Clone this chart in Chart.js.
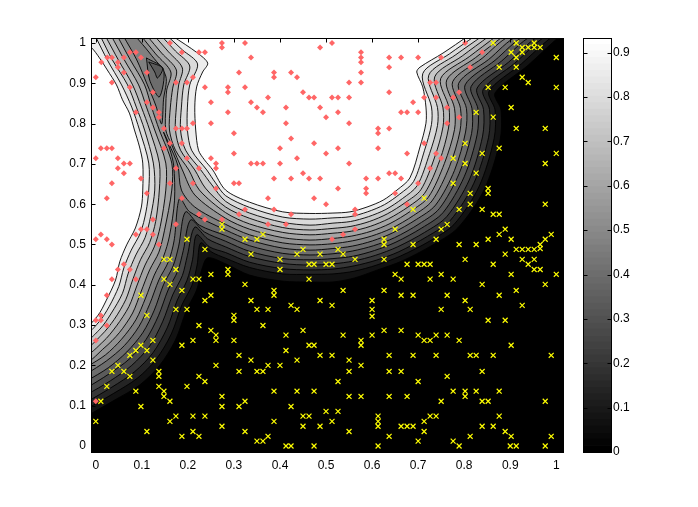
<!DOCTYPE html>
<html>
<head>
<meta charset="utf-8">
<title>Contour with two classes</title>
<script src="https://cdn.jsdelivr.net/npm/chart.js@4"></script>
<style>
  body { margin: 0; background: #fff; }
  #wrap { position: relative; width: 698px; height: 507px; }
  canvas { position: absolute; top: 0; }
  #main { left: 0; }
  #bar { left: 570px; }
</style>
</head>
<body>
<div id="wrap">
  <canvas id="main" width="698" height="507"></canvas>
  <canvas id="bar" width="128" height="507"></canvas>
</div>
<script>
// tick labels
const xTicks = [0, 0.1, 0.2, 0.3, 0.4, 0.5, 0.6, 0.7, 0.8, 0.9, 1];
const yTicks = [0, 0.1, 0.2, 0.3, 0.4, 0.5, 0.6, 0.7, 0.8, 0.9, 1];
const barTicks = [0, 0.1, 0.2, 0.3, 0.4, 0.5, 0.6, 0.7, 0.8, 0.9];
const barMax = 0.933;

// class points
const pinkPoints = [
  [.161,1],[.187,.977],[.224,.977],[.237,.977],[.274,1],[.274,.989],[.324,1],[.074,.977],[.087,.977],[.098,.964],[.025,.964],[.035,.964],[.061,.964],[.048,.952],[.012,.952],[.048,.94],[.061,.927],[.111,.927],[.311,.927],[0,.915],[.035,.902],[.174,.902],[.198,.902],[.211,.915],[.074,.89],[.237,.89],[.287,.89],[.287,.878],[.324,.89],[.124,.878],[.111,.853],[.25,.853],[.124,.84],[.137,.828],[.287,.828],[.087,.828],[.137,.816],[.25,.801],[.148,.788],[.174,.788],[.187,.788],[.198,.788],[.211,.801],[.3,.776],[.187,.751],[.161,.751],[.148,.739],[.011,.739],[.024,.739],[.035,.739],[.3,.726],[.198,.714],[.25,.714],[0,.714],[.048,.714],[.261,.701],[.061,.701],[.074,.701],[.048,.689],[.174,.689],[.224,.689],[.261,.689],
  [.061,.677],[.098,.664],[.035,.652],[.161,.652],[.211,.652],[.3,.652],[.311,.652],[.261,.639],[.111,.627],[.024,.615],[.187,.615],[.324,.587],[.224,.575],[.311,.575],[.237,.562],[.274,.562],[.124,.562],[.174,.55],[.098,.538],[.111,.538],[.087,.525],[.124,.525],[.011,.525],[0,.513],[.024,.513],[.035,.5],[.137,.5],[.061,.451],[.048,.438],[.074,.438],[.035,.414],[.087,.414],[.024,.374],
  [.011,.324],[0,.312],[.011,.312],[.024,.299],[0,.262],[0,.111],
  [.513,1],[.487,.989],[.337,.964],[.576,.977],[.576,.964],[.576,.952],[.637,.964],[.663,.964],[.7,.964],[.637,.94],[.387,.927],[.424,.927],[.387,.915],[.437,.915],[.576,.927],[.55,.902],[.576,.902],[.45,.878],[.637,.878],[.374,.865],[.463,.865],[.474,.865],[.513,.865],[.526,.865],[.55,.865],[.337,.853],[.35,.84],[.413,.84],[.487,.84],[.689,.853],[.363,.828],[.526,.828],[.663,.828],[.676,.828],[.7,.828],[.5,.816],[.413,.801],[.55,.801],[.613,.788],[.637,.788],[.613,.776],[.424,.763],[.474,.751],[.4,.739],[.526,.739],[.613,.739],[.5,.726],[.676,.726],[.437,.714],[.337,.701],[.35,.701],[.363,.701],[.4,.701],[.55,.701],
  [.802,1],[.839,.977],[.75,.964],[.813,.94],[.726,.902],[.739,.902],[.789,.878],[.713,.865],[.739,.865],[.776,.865],[.763,.84],[.789,.816],[.763,.801],[.713,.751],[.739,.726],[.75,.714],[.726,.689],
  [.45,.677],[.387,.664],[.424,.664],[.463,.664],[.487,.664],[.587,.664],[.613,.664],[.637,.677],[.65,.677],[.663,.664],[.7,.652],[.526,.639],[.587,.639],[.587,.627],[.65,.627],[.374,.615],[.474,.615],[.5,.6],[.676,.6],[.387,.587],[.563,.587],[.424,.575],[.563,.575],[.374,.55],[.413,.55],[.563,.538],[.537,.525],[.513,.513]
];
const yellowPoints = [
  [.274,.55],[.274,.538],[.198,.513],[.324,.513],[.237,.488],[.148,.463],[.161,.463],[.174,.438],[.287,.438],[.287,.426],[.25,.426],[.148,.414],[.211,.414],[.224,.414],[.161,.401],[.324,.401],[.187,.386],[.25,.374],[.237,.361],[.098,.374],[.174,.339],[.198,.339],
  [.111,.324],[.3,.324],[.3,.312],[.224,.299],[.25,.287],[.261,.275],[.261,.262],[.211,.262],[.3,.262],[.124,.262],[.098,.25],[.187,.25],[.087,.237],[.111,.237],[.074,.225],[.311,.225],[.124,.213],[.048,.2],[.261,.2],[.035,.185],[.061,.185],[.311,.185],[.137,.185],[.137,.173],[.074,.173],[.224,.173],[.237,.16],[.137,.148],[.024,.148],[.198,.148],[.148,.136],[.087,.136],[.148,.123],[.274,.123],[.161,.111],[.011,.111],[.324,.111],[.098,.098],[.274,.098],[.311,.098],[.174,.074],[.211,.074],[.237,.074],[.161,.061],[0,.061],[.274,.049],[.111,.036],[.211,.036],[.324,.036],[.187,.024],[.224,.024],
  [.863,1],[.913,1],[.952,1],[.902,.977],[.913,.964],[.926,.989],[.926,.977],[.939,.989],[.952,.989],[.965,.989],[1,.964],[.876,.94],[.913,.94],[.926,.915],[.939,.902],[.852,.89],[.889,.89],[1,.89],[.902,.84],[.826,.828],[.863,.816],[.913,.788],[.976,.788],[.802,.751],[.876,.739],[.839,.726],[1,.726],[.776,.714],[.802,.701],[.976,.701],
  [.689,.587],[.65,.538],[.363,.525],[.35,.513],[.626,.513],[.626,.5],[.689,.5],[.45,.488],[.526,.488],[.337,.476],[.437,.476],[.487,.476],[.537,.476],[.4,.463],[.563,.463],[.626,.463],[.463,.451],[.474,.451],[.5,.451],[.513,.451],[.676,.451],[.7,.451],[.4,.438],[.65,.426],[.663,.414],[.463,.414],[.387,.386],[.387,.374],[.537,.386],[.626,.386],[.337,.361],[.487,.361],[.6,.361],[.663,.374],[.689,.374],[.424,.349],[.513,.349],[.35,.339],[.374,.339],[.437,.339],[.6,.339],
  [.826,.677],[.776,.652],[.852,.639],[.852,.627],[.813,.627],[.713,.615],[.813,.6],[.976,.6],[.789,.587],[.839,.587],[.863,.575],[.876,.575],[.763,.55],[.75,.538],[.889,.538],[.876,.525],[.989,.525],[.739,.513],[.852,.513],[.902,.513],[.976,.513],[.789,.5],[.826,.5],[.965,.5],[.913,.488],[.926,.488],[.939,.488],[.952,.488],[.965,.49],[.889,.476],[.802,.463],[.926,.463],[.952,.463],[.713,.451],[.726,.451],[.863,.451],[.939,.451],[.952,.438],[.965,.438],[.75,.426],[.902,.426],[1,.426],[.726,.414],[.776,.414],[.839,.401],[.976,.401],[.913,.386],[.763,.374],[.876,.374],[.802,.361],[.926,.349],[.75,.339],[.813,.339],
  [.6,.322],[.363,.299],[.45,.287],[.626,.287],[.663,.287],[.413,.275],[.537,.275],[.6,.275],[.7,.275],[.576,.262],[.576,.25],[.463,.25],[.474,.25],[.413,.237],[.487,.225],[.513,.225],[.637,.225],[.689,.225],[.337,.213],[.437,.213],[.55,.213],[.374,.2],[.4,.2],[.576,.2],[.35,.185],[.363,.185],[.55,.185],[.637,.185],[.663,.185],[.526,.16],[.7,.16],[.387,.136],[.437,.136],[.474,.136],[.55,.123],[.576,.123],[.637,.123],[.676,.123],[.424,.098],[.5,.086],[.526,.086],[.613,.074],[.45,.074],[.463,.074],[.613,.061],[.387,.061],[.513,.061],[.45,.049],[.487,.049],[.613,.049],[.663,.049],[.676,.049],[.689,.049],[.55,.036],[.374,.024],[.637,.024],[.35,.012],[.363,.012],[.7,.012],[.413,0],[.424,0],[.474,0],[.613,0],
  [.852,.312],[.889,.312],[.713,.262],[.726,.262],[.739,.275],[.763,.275],[.789,.262],[.902,.25],[.739,.225],[.813,.225],[.826,.225],[.863,.225],[.989,.225],[.839,.185],[.763,.173],[.776,.136],[.802,.136],[.802,.123],[.826,.136],[.876,.136],[.75,.111],[.839,.111],[.852,.111],[.976,.111],[.713,.061],[.726,.074],[.739,.074],[.876,.074],[.713,.036],[.839,.049],[.863,.049],[.889,.036],[.902,.024],[.989,.024],[.813,.024],[.776,.012],[.789,0],[.9,0],[.913,0],[.976,0]
];

// contour lines, c1 is the lowest level. Up to c8 one line runs along the whole band
const c1 = [[-.02,.074],[.041,.114],[.095,.151],[.138,.199],[.173,.263],[.197,.337],[.219,.387],[.23,.437],[.243,.467],[.282,.452],[.334,.424],[.406,.409],[.465,.407],[.515,.407],[.562,.417],[.612,.437],[.665,.459],[.732,.499],[.786,.541],[.843,.635],[.878,.759],[.88,.834],[.867,.876],[.939,.945],[1.008,1.017]];
const c2 = [[-.02,.092],[.038,.13],[.09,.168],[.131,.215],[.164,.278],[.187,.35],[.209,.399],[.22,.449],[.228,.504],[.252,.481],[.282,.466],[.334,.443],[.406,.427],[.465,.426],[.515,.427],[.562,.434],[.61,.449],[.661,.471],[.726,.509],[.778,.55],[.832,.643],[.865,.763],[.867,.834],[.854,.88],[.924,.948],[.993,1.017]];
const c3 = [[-.02,.109],[.035,.146],[.084,.184],[.124,.231],[.155,.293],[.177,.362],[.198,.411],[.21,.462],[.219,.524],[.247,.494],[.282,.48],[.334,.456],[.406,.44],[.465,.437],[.515,.439],[.561,.447],[.609,.461],[.658,.482],[.72,.52],[.77,.56],[.821,.652],[.853,.766],[.855,.835],[.841,.884],[.91,.95],[.977,1.017]];
const c4 = [[-.02,.127],[.032,.162],[.078,.2],[.117,.248],[.145,.308],[.167,.375],[.188,.423],[.199,.473],[.215,.543],[.243,.514],[.282,.494],[.334,.47],[.406,.453],[.465,.449],[.515,.452],[.56,.459],[.607,.473],[.655,.494],[.714,.53],[.762,.569],[.811,.66],[.84,.769],[.842,.835],[.828,.888],[.896,.952],[.962,1.017]];
const c5 = [[-.02,.144],[.029,.179],[.073,.216],[.109,.264],[.136,.323],[.157,.387],[.178,.434],[.19,.485],[.206,.561],[.236,.531],[.282,.508],[.334,.483],[.406,.465],[.465,.462],[.515,.465],[.559,.471],[.605,.485],[.652,.506],[.708,.541],[.754,.579],[.8,.668],[.828,.772],[.83,.836],[.815,.892],[.881,.955],[.946,1.017]];
const c6 = [[-.02,.161],[.027,.194],[.067,.233],[.102,.281],[.127,.337],[.147,.4],[.168,.447],[.18,.496],[.195,.581],[.225,.548],[.282,.522],[.334,.497],[.406,.478],[.465,.474],[.515,.477],[.558,.484],[.603,.497],[.649,.517],[.702,.551],[.746,.589],[.789,.676],[.816,.775],[.817,.837],[.802,.896],[.867,.957],[.931,1.017]];
const c7 = [[-.02,.179],[.023,.211],[.062,.249],[.094,.297],[.117,.352],[.137,.412],[.158,.458],[.17,.509],[.182,.615],[.204,.581],[.282,.536],[.334,.511],[.406,.491],[.465,.486],[.515,.49],[.557,.496],[.601,.509],[.645,.529],[.696,.562],[.738,.598],[.779,.684],[.803,.779],[.805,.837],[.788,.9],[.853,.959],[.916,1.017]];
const c8 = [[-.02,.196],[.021,.226],[.056,.265],[.087,.313],[.108,.367],[.127,.424],[.147,.47],[.16,.521],[.171,.61],[.169,.697],[.16,.739],[.147,.779],[.158,.752],[.178,.697],[.186,.635],[.215,.593],[.282,.55],[.334,.524],[.406,.504],[.465,.499],[.515,.502],[.557,.509],[.599,.521],[.642,.54],[.69,.572],[.73,.608],[.768,.693],[.791,.782],[.792,.838],[.775,.904],[.839,.962],[.9,1.017]];

// above c8 the level splits into a left lobe and the round bowl
const c9Left = [[.047,1.017],[.075,.958],[.106,.896],[.121,.841],[.138,.784],[.165,.702],[.165,.635],[.149,.534],[.137,.481],[.117,.437],[.098,.382],[.08,.33],[.051,.281],[.018,.243],[-.02,.213]];
const c10Left = [[.034,1.017],[.062,.958],[.093,.896],[.11,.841],[.128,.784],[.152,.702],[.152,.635],[.14,.545],[.127,.494],[.107,.449],[.089,.397],[.072,.346],[.045,.298],[.015,.258],[-.02,.231]];
const c11Left = [[.021,1.017],[.049,.958],[.08,.896],[.099,.841],[.117,.784],[.138,.702],[.138,.635],[.13,.557],[.117,.505],[.097,.462],[.08,.412],[.065,.363],[.04,.314],[.012,.275],[-.02,.248]];
const c12Left = [[.01,1.017],[.036,.958],[.069,.896],[.088,.841],[.106,.784],[.125,.702],[.128,.635],[.119,.569],[.107,.517],[.087,.474],[.07,.427],[.058,.379],[.034,.33],[.009,.29],[-.02,.266]];
const c13Left = [[-.001,1.017],[.025,.958],[.056,.896],[.078,.841],[.095,.784],[.115,.702],[.115,.635],[.109,.581],[.097,.529],[.077,.486],[.061,.442],[.05,.396],[.029,.346],[.007,.308],[-.02,.283]];
const c14Left = [[-.02,.993],[-.009,.988],[.008,.963],[.025,.933],[.045,.896],[.058,.859],[.073,.826],[.084,.784],[.095,.742],[.102,.702],[.102,.635],[.099,.593],[.086,.541],[.067,.499],[.052,.457],[.043,.412],[.023,.362],[.004,.323],[-.02,.3]];

const c9Bowl = [[.099,1.017],[.13,.973],[.163,.928],[.154,.883],[.152,.841],[.152,.784],[.165,.747],[.188,.685],[.215,.623],[.282,.565],[.334,.538],[.406,.517],[.465,.511],[.515,.515],[.556,.521],[.598,.533],[.639,.552],[.684,.583],[.722,.617],[.757,.701],[.779,.785],[.779,.838],[.762,.908],[.825,.964],[.885,1.017]];
const c10Bowl = [[.112,1.017],[.143,.975],[.175,.933],[.167,.888],[.162,.841],[.16,.784],[.173,.734],[.202,.685],[.225,.635],[.282,.579],[.334,.551],[.406,.53],[.465,.524],[.515,.528],[.555,.533],[.596,.545],[.636,.564],[.678,.593],[.714,.627],[.747,.709],[.766,.789],[.767,.839],[.749,.912],[.811,.966],[.87,1.017]];
const c11Bowl = [[.128,1.017],[.158,.978],[.188,.938],[.18,.896],[.175,.841],[.173,.784],[.184,.734],[.215,.685],[.238,.64],[.282,.593],[.334,.565],[.406,.542],[.465,.536],[.515,.54],[.554,.545],[.594,.557],[.633,.576],[.672,.604],[.706,.636],[.736,.717],[.754,.792],[.754,.839],[.736,.916],[.796,.968],[.854,1.017]];
const c12Bowl = [[.143,1.017],[.173,.98],[.204,.943],[.191,.896],[.186,.841],[.184,.784],[.195,.734],[.228,.685],[.252,.648],[.282,.607],[.334,.578],[.406,.555],[.465,.548],[.515,.553],[.553,.557],[.592,.569],[.63,.587],[.666,.614],[.698,.646],[.725,.726],[.742,.795],[.742,.84],[.723,.92],[.782,.971],[.839,1.017]];
const c13Bowl = [[.156,1.017],[.188,.983],[.221,.948],[.204,.896],[.199,.841],[.199,.784],[.208,.734],[.241,.685],[.26,.653],[.282,.621],[.334,.592],[.406,.568],[.465,.563],[.515,.566],[.552,.569],[.59,.581],[.627,.599],[.66,.625],[.69,.656],[.714,.734],[.729,.798],[.729,.841],[.71,.924],[.768,.973],[.823,1.017]];
const c14Bowl = [[.167,1.017],[.221,.975],[.243,.95],[.232,.928],[.219,.891],[.215,.841],[.217,.784],[.223,.734],[.236,.71],[.254,.685],[.282,.635],[.334,.605],[.406,.581],[.465,.577],[.515,.578],[.552,.581],[.589,.593],[.624,.61],[.654,.635],[.682,.665],[.704,.742],[.717,.801],[.717,.841],[.71,.891],[.697,.928],[.704,.94],[.754,.975],[.808,1.017]];

// the dip near the top of the valley
const c8Dip = [[.06,1.017],[.089,.958],[.112,.896],[.13,.846],[.143,.799],[.147,.859],[.152,.918],[.117,.975],[.086,1.017]];
const c7Dip = [[.11,.963],[.147,.935],[.138,.866],[.117,.908],[.11,.963]];
const c6Dip = [[.115,.953],[.145,.938],[.134,.913],[.128,.928],[.115,.953]];

// band greys, index 0 is the black floor
const bandGreys = [0, 18, 36, 55, 73, 91, 109, 128, 146, 164, 182, 200, 219, 237, 255];
// colour ramp of the bar
const barGreys = [0,4,8,12,16,20,24,28,32,36,40,45,49,53,57,61,65,69,73,77,81,85,89,93,97,101,105,109,113,117,121,125,130,134,138,142,146,150,154,158,162,166,170,174,178,182,186,190,194,198,202,206,210,215,219,223,227,231,235,239,243,247,251,255];

const FONT = { family: '"Liberation Sans", Arial, sans-serif', size: 12 };
const grey = v => `rgb(${v},${v},${v})`;
const toXY = list => list.map(p => ({ x: p[0], y: p[1] }));
const TOP_RIGHT = [1.05, 1.05];
const TOP_LEFT = [-0.05, 1.05];

// fills the polygon of a contour dataset just before its line is drawn
const contourFill = {
  id: 'contourFill',
  beforeDatasetsDraw(chart) {
    const { ctx, chartArea: a } = chart;
    ctx.fillStyle = '#000';
    ctx.fillRect(a.left, a.top, a.right - a.left, a.bottom - a.top);
  },
  beforeDatasetDraw(chart, args) {
    const ds = chart.data.datasets[args.index];
    if (!ds.regionFill) return;
    const { ctx, chartArea: a } = chart;
    args.meta.dataset.updateControlPoints(a, 'x');
    ctx.save();
    ctx.beginPath();
    ctx.rect(a.left, a.top, a.right - a.left, a.bottom - a.top);
    ctx.clip();
    ctx.beginPath();
    const pts = args.meta.data;
    pts.forEach((pt, i) => {
      if (!i) ctx.moveTo(pt.x, pt.y);
      else ctx.bezierCurveTo(pts[i - 1].cp2x, pts[i - 1].cp2y, pt.cp1x, pt.cp1y, pt.x, pt.y);
    });
    ctx.closePath();
    ctx.fillStyle = ds.regionFill;
    ctx.fill();
    ctx.restore();
  }
};

// box round the axes with short inward ticks on every side
const boxTicks = {
  id: 'boxTicks',
  afterDraw(chart) {
    const { ctx, chartArea: a, scales } = chart;
    const L = Math.round(a.left) + 0.5, R = Math.round(a.right) + 0.5;
    const T = Math.round(a.top) + 0.5, B = Math.round(a.bottom) + 0.5;
    ctx.save();
    ctx.strokeStyle = '#000';
    ctx.lineWidth = 1;
    ctx.strokeRect(L, T, R - L, B - T);
    ctx.beginPath();
    scales.y.ticks.forEach(t => {
      const py = Math.round(scales.y.getPixelForValue(t.value)) + 0.5;
      ctx.moveTo(L, py); ctx.lineTo(L + 4, py);
      ctx.moveTo(R, py); ctx.lineTo(R - 4, py);
    });
    if (chart.canvas.id === 'main') {
      scales.x.ticks.forEach(t => {
        const px = Math.round(scales.x.getPixelForValue(t.value)) + 0.5;
        ctx.moveTo(px, T); ctx.lineTo(px, T + 4);
        ctx.moveTo(px, B); ctx.lineTo(px, B - 4);
      });
    }
    ctx.stroke();
    ctx.restore();
  }
};

const layers = [
  [c1, 1, [TOP_RIGHT, TOP_LEFT]], [c2, 2, [TOP_RIGHT, TOP_LEFT]], [c3, 3, [TOP_RIGHT, TOP_LEFT]], [c4, 4, [TOP_RIGHT, TOP_LEFT]],
  [c5, 5, [TOP_RIGHT, TOP_LEFT]], [c6, 6, [TOP_RIGHT, TOP_LEFT]], [c7, 7, [TOP_RIGHT, TOP_LEFT]], [c8, 8, [TOP_RIGHT, TOP_LEFT]],
  [c8Dip, 7, []], [c7Dip, 6, []], [c6Dip, 5, []],
  [c9Left, 9, [TOP_LEFT]], [c9Bowl, 9, []], [c10Left, 10, [TOP_LEFT]], [c10Bowl, 10, []],
  [c11Left, 11, [TOP_LEFT]], [c11Bowl, 11, []], [c12Left, 12, [TOP_LEFT]], [c12Bowl, 12, []],
  [c13Left, 13, [TOP_LEFT]], [c13Bowl, 13, []], [c14Left, 14, [TOP_LEFT]], [c14Bowl, 14, []]
];

const contourSets = layers.map((l, i) => ({
  type: 'scatter',
  data: toXY(l[0].concat(l[2])),
  showLine: true,
  regionFill: grey(bandGreys[l[1]]),
  borderColor: '#000',
  borderWidth: 0.9,
  tension: 0.3,
  capBezierPoints: false,
  pointRadius: 0,
  clip: 0,
  order: 100 - i
}));

new Chart(document.getElementById('main'), {
  type: 'scatter',
  data: {
    datasets: [
      ...contourSets,
      { data: toXY(pinkPoints), pointStyle: 'rectRot', pointRadius: 3, backgroundColor: '#ff6666', borderColor: '#ff6666', borderWidth: 0, order: 1 },
      { data: toXY(yellowPoints), pointStyle: 'crossRot', pointRadius: 3.5, borderColor: '#ffff00', backgroundColor: '#ffff00', borderWidth: 1.2, order: 0 }
    ]
  },
  options: {
    responsive: false,
    animation: false,
    devicePixelRatio: 1,
    layout: { padding: { top: 38, right: 135, left: 0, bottom: 0 } },
    plugins: { legend: { display: false }, tooltip: { enabled: false } },
    scales: {
      x: {
        type: 'linear', min: -0.0104, max: 1.0146,
        afterBuildTicks: s => { s.ticks = xTicks.map(v => ({ value: v })); },
        afterFit: s => { s.height = 55; },
        grid: { display: false, drawTicks: false }, border: { display: false },
        ticks: { color: '#000', font: FONT, padding: 6, maxRotation: 0, autoSkip: false, callback: v => String(v) }
      },
      y: {
        type: 'linear', min: -0.0149, max: 1.0124,
        afterBuildTicks: s => { s.ticks = yTicks.map(v => ({ value: v })); },
        afterFit: s => { s.width = 91; },
        grid: { display: false, drawTicks: false }, border: { display: false },
        ticks: { color: '#000', font: FONT, padding: 5, autoSkip: false, callback: v => String(v) }
      }
    }
  },
  plugins: [contourFill, boxTicks]
});

// colour bar, one stacked segment per grey of the ramp
new Chart(document.getElementById('bar'), {
  type: 'bar',
  data: {
    labels: ['level'],
    datasets: barGreys.map(g => ({
      data: [barMax / barGreys.length],
      backgroundColor: grey(g),
      barPercentage: 1,
      categoryPercentage: 1
    }))
  },
  options: {
    responsive: false,
    animation: false,
    devicePixelRatio: 1,
    layout: { padding: { top: 38, bottom: 55, left: 13, right: 0 } },
    plugins: { legend: { display: false }, tooltip: { enabled: false } },
    scales: {
      x: { stacked: true, display: false },
      y: {
        stacked: true, position: 'right', min: 0, max: barMax,
        afterBuildTicks: s => { s.ticks = barTicks.map(v => ({ value: v })); },
        afterFit: s => { s.width = 87; },
        grid: { display: false, drawTicks: false }, border: { display: false },
        ticks: { color: '#000', font: FONT, padding: 2, autoSkip: false, callback: v => String(v) }
      }
    }
  },
  plugins: [boxTicks]
});
</script>
</body>
</html>
